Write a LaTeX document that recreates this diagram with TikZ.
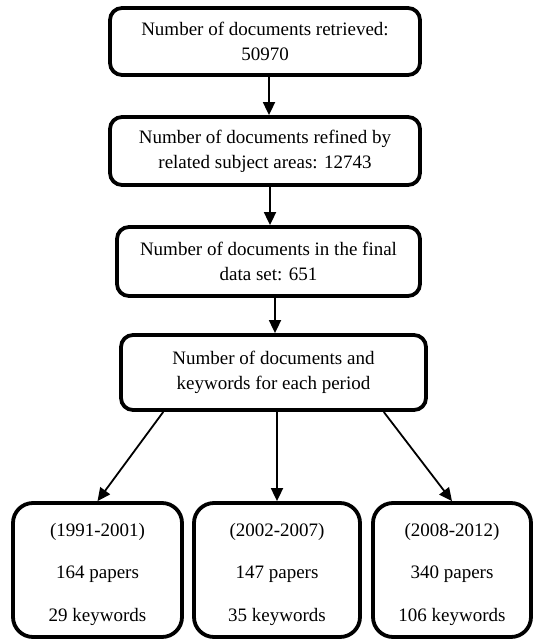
\documentclass[tikz,border=0pt]{standalone}
\usepackage{fontspec}
\setmainfont{Liberation Serif}
\usetikzlibrary{
    arrows.meta,
    calc
}
\newcommand{\toppad}{\rule{0pt}{22pt}}

\begin{document}
\begin{tikzpicture}[x=1pt, y=-1pt,
    stage/.style={draw, line width=3.8pt, rounded corners=12pt, align=center,
        inner sep=0pt, font=\fontsize{19}{25}\selectfont},
    period/.style={stage, rounded corners=20pt, minimum height=134pt},
    flow/.style={line width=1.8pt, -{Triangle[length=13pt,width=12pt]}}
]

% Frame
\useasboundingbox (0,0) rectangle (536,640);

% Stages
\node[stage, minimum width=310pt, minimum height=67pt] (retrieved) at (265,41.5)
    {Number of documents retrieved:\\50970};
\node[stage, minimum width=310pt, minimum height=68pt] (refined) at (265,151)
    {Number of documents refined by\\related subject areas: 12743};
\node[stage, minimum width=303pt, minimum height=69pt] (final) at (268.5,261.5)
    {Number of documents in the final\\data set: 651};
\node[stage, minimum width=305pt, minimum height=75pt] (periods) at (273.5,372.5)
    {Number of documents and\\keywords for each period};

% Periods
\node[period, minimum width=169pt] (early) at (97.5,570)
    {\toppad(1991-2001)\\[17.5pt]164 papers\\[17.5pt]29 keywords};
\node[period, minimum width=166pt] (middle) at (277,570)
    {\toppad(2002-2007)\\[17.5pt]147 papers\\[17.5pt]35 keywords};
\node[period, minimum width=158pt] (late) at (452,570)
    {\toppad(2008-2012)\\[17.5pt]340 papers\\[17.5pt]106 keywords};

% Arrows
\draw[flow] ($(retrieved.south)+(4,0)$) -- ($(refined.north)+(4,0)$);
\draw[flow] ($(refined.south)+(5,0)$) -- ($(final.north)+(1.5,0)$);
\draw[flow] ($(final.south)+(6.5,0)$) -- ($(periods.north)+(1.5,0)$);
\draw[flow] ($(periods.south west)!0.143!(periods.south east)$) -- (early.north);
\draw[flow] (middle.north |- periods.south) -- (middle.north);
\draw[flow] ($(periods.south east)!0.143!(periods.south west)$) -- (late.north);

\end{tikzpicture}
\end{document}
